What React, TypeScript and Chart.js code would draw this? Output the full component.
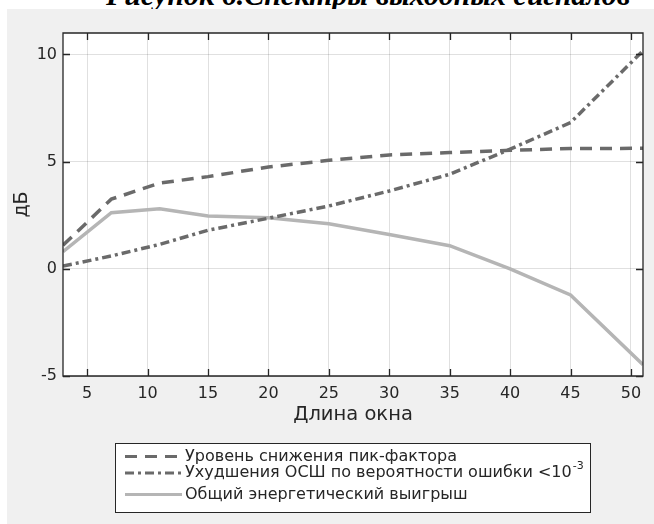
import React, { useEffect, useRef } from "react";
import { Chart, registerables } from "chart.js";

Chart.register(...registerables);

const windowLengths = [3, 7, 11, 15, 20, 25, 30, 35, 40, 45, 51];
const peakFactorReduction = [1.1, 3.25, 4.0, 4.3, 4.75, 5.06, 5.31, 5.42, 5.53, 5.61, 5.62];
const snrDegradation = [0.13, 0.6, 1.14, 1.8, 2.36, 2.93, 3.63, 4.41, 5.58, 6.82, 10.17];
const totalGain = [0.8, 2.62, 2.8, 2.46, 2.38, 2.1, 1.6, 1.08, 0.0, -1.22, -4.47];

const xTicks = [5, 10, 15, 20, 25, 30, 35, 40, 45, 50];
const yTicks = [-5, 0, 5, 10];

const seriesLabels = [
  "Уровень снижения пик-фактора",
  "Ухудшения ОСШ по вероятности ошибки <10",
  "Общий энергетический выигрыш",
];
const legendSuperscript = ["", "-3", ""];
const figureCaption = "Рисунок 6.Спектры выходных сигналов";
const xTitle = "Длина окна";
const yTitle = "дБ";

const DARK = "#6a6a6a";
const LIGHT = "#b5b5b5";
const AXIS = "#262626";
const FONT = "'DejaVu Sans', sans-serif";

const dashes = [[12, 8], [9, 4, 3, 4], []];
const colors = [DARK, DARK, LIGHT];

const framePlugin = {
  id: "frame",
  beforeDraw(chart: any) {
    const { ctx, chartArea } = chart;
    ctx.save();
    ctx.fillStyle = "#f0f0f0";
    ctx.fillRect(0, 0, chart.width, chart.height);
    ctx.fillStyle = "#ffffff";
    ctx.fillRect(chartArea.left, chartArea.top, chartArea.right - chartArea.left, chartArea.bottom - chartArea.top);
    ctx.restore();
  },
  afterDatasetsDraw(chart: any) {
    const { ctx, chartArea } = chart;
    const { left, top, right, bottom } = chartArea;
    const xs = chart.scales.x;
    const ys = chart.scales.y;
    const tl = 7;
    ctx.save();
    ctx.strokeStyle = AXIS;
    ctx.lineWidth = 1.3;
    ctx.beginPath();
    ctx.rect(left, top, right - left, bottom - top);
    for (const v of xTicks) {
      const px = Math.round(xs.getPixelForValue(v)) + 0.5;
      ctx.moveTo(px, bottom);
      ctx.lineTo(px, bottom - tl);
      ctx.moveTo(px, top);
      ctx.lineTo(px, top + tl);
    }
    for (const v of yTicks) {
      const py = Math.round(ys.getPixelForValue(v)) + 0.5;
      ctx.moveTo(left, py);
      ctx.lineTo(left + tl, py);
      ctx.moveTo(right, py);
      ctx.lineTo(right - tl, py);
    }
    ctx.stroke();
    ctx.restore();
  },
  afterDraw(chart: any) {
    const { ctx } = chart;
    const bx = 108, by = 434, bw = 475, bh = 69;
    ctx.save();
    ctx.fillStyle = "#ffffff";
    ctx.fillRect(bx, by, bw, bh);
    ctx.strokeStyle = "#262626";
    ctx.lineWidth = 1;
    ctx.strokeRect(bx + 0.5, by + 0.5, bw, bh);
    const rows = [447.5, 464, 485.5];
    seriesLabels.forEach((label, i) => {
      const yy = rows[i];
      ctx.beginPath();
      ctx.setLineDash(dashes[i]);
      ctx.strokeStyle = colors[i];
      ctx.lineWidth = 3;
      ctx.moveTo(118, yy);
      ctx.lineTo(175, yy);
      ctx.stroke();
      ctx.setLineDash([]);
      ctx.fillStyle = AXIS;
      ctx.font = `16px ${FONT}`;
      ctx.textBaseline = "middle";
      ctx.textAlign = "left";
      ctx.fillText(label, 178, yy);
      if (legendSuperscript[i]) {
        const w = ctx.measureText(label).width;
        ctx.font = `11px ${FONT}`;
        ctx.fillText(legendSuperscript[i], 178 + w + 1, yy - 7);
      }
    });
    ctx.restore();
  },
};

export default function App() {
  const ref = useRef<HTMLCanvasElement | null>(null);
  useEffect(() => {
    if (!ref.current) return;
    const mk = (d: number[]) => windowLengths.map((x, i) => ({ x, y: d[i] }));
    const chart = new Chart(ref.current, {
      type: "line",
      data: {
        datasets: [peakFactorReduction, snrDegradation, totalGain].map((d, i) => ({
          label: seriesLabels[i],
          data: mk(d),
          borderColor: colors[i],
          borderWidth: 3.5,
          borderDash: dashes[i],
          pointRadius: 0,
          fill: false,
          tension: 0,
        })),
      },
      options: {
        animation: false,
        responsive: false,
        maintainAspectRatio: false,
        events: [],
        layout: { padding: { left: 3.6, right: 11, top: 24, bottom: 97.3 } },
        plugins: { legend: { display: false }, tooltip: { enabled: false }, title: { display: false } },
        scales: {
          x: {
            type: "linear",
            min: 3,
            max: 51,
            afterBuildTicks: (s: any) => { s.ticks = xTicks.map((v) => ({ value: v })); },
            afterFit: (s: any) => { s.height = 50.7; },
            grid: { color: "rgba(0,0,0,0.12)", drawTicks: false, lineWidth: 1 },
            border: { display: false },
            ticks: { padding: 8, color: AXIS, font: { family: FONT, size: 16 }, maxRotation: 0 },
            title: { display: true, text: xTitle, color: AXIS, padding: 0, font: { family: FONT, size: 19.5, lineHeight: 1.2 } },
          },
          y: {
            type: "linear",
            min: -5,
            max: 11,
            afterBuildTicks: (s: any) => { s.ticks = yTicks.map((v) => ({ value: v })); },
            afterFit: (s: any) => { s.width = 52.4; },
            grid: { color: "rgba(0,0,0,0.12)", drawTicks: false, lineWidth: 1 },
            border: { display: false },
            ticks: { padding: 6, color: AXIS, font: { family: FONT, size: 16 } },
            title: { display: true, text: yTitle, color: AXIS, padding: 0, font: { family: FONT, size: 19, lineHeight: 1.2 } },
          },
        },
      },
      plugins: [framePlugin],
    });
    return () => chart.destroy();
  }, []);

  return (
    <div style={{ position: "fixed", left: 0, top: 0, width: 654, height: 524, overflow: "hidden", background: "#ffffff" }}>
      <div
        style={{
          position: "absolute",
          left: 0,
          top: -20,
          width: 736,
          textAlign: "center",
          fontFamily: "'Liberation Serif', serif",
          fontWeight: "bold",
          fontStyle: "italic",
          fontSize: 30,
          lineHeight: "30px",
          whiteSpace: "nowrap",
          color: "#000",
        }}
      >
        {figureCaption}
      </div>
      <div style={{ position: "absolute", left: 7, top: 9, width: 647, height: 515 }}>
        <canvas ref={ref} width={647} height={515} style={{ display: "block", width: 647, height: 515 }} />
      </div>
    </div>
  );
}
